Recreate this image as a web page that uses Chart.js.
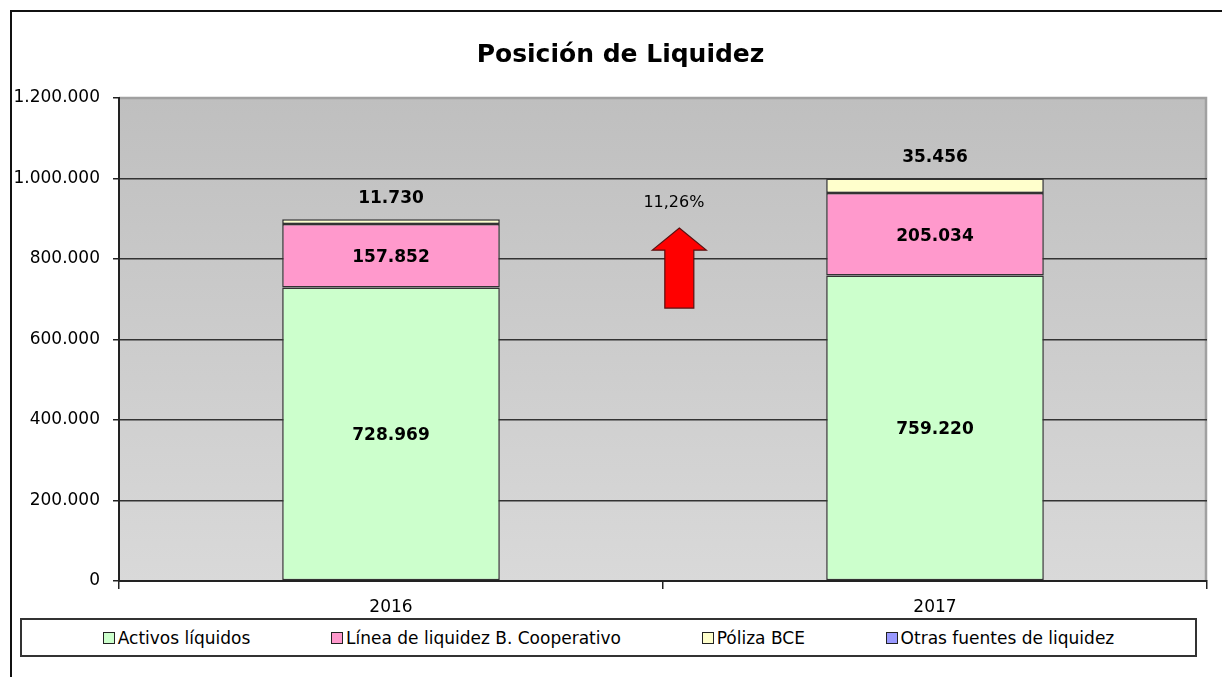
<!DOCTYPE html>
<html>
<head>
<meta charset="UTF-8">
<title>Posición de Liquidez</title>
<script src="https://cdn.jsdelivr.net/npm/chart.js@4.4.1/dist/chart.umd.min.js"></script>
<style>
  body { margin: 0; background: #fff; font-family: "DejaVu Sans", Verdana, sans-serif; }
  #wrap { position: relative; width: 1222px; height: 677px; overflow: hidden; }
  #frame { position: absolute; left: 10px; top: 10px; width: 1300px; height: 800px;
           border: 2px solid #111; pointer-events: none; }
  #legend { position: absolute; left: 20px; top: 618px; width: 1173px; height: 35px;
            border: 2px solid #333; background: #fff; display: flex;
            justify-content: space-evenly; align-items: center; font-size: 17px; color: #000; }
  #legend .item { display: flex; align-items: center; white-space: nowrap; }
  #legend .box { display: inline-block; width: 10px; height: 10px; border: 1px solid #222; margin-right: 3px; }
</style>
</head>
<body>
<div id="wrap">
  <canvas id="chart" width="1222" height="677"></canvas>
  <div id="legend"></div>
  <div id="frame"></div>
</div>
<script>
// data
var categories = ['2016', '2017'];
var activosLiquidos = [728969, 759220];
var lineaLiquidez = [157852, 205034];
var polizaBCE = [11730, 35456];
var otrasFuentes = [0, 0];
var yMax = 1200000;
var yStep = 200000;

// arrow between the two bars, in axis units
var arrowX = 0.53;
var arrowTop = 877000;
var arrowNeck = 822000;
var arrowBottom = 678000;
var growthLabelX = 0.52;
var growthLabelY = 939000;

var FONT = '"DejaVu Sans", Verdana, sans-serif';

function fmt(n) {
  return String(Math.round(n)).replace(/\B(?=(\d{3})+(?!\d))/g, '.');
}

function total(i) {
  return activosLiquidos[i] + lineaLiquidez[i] + polizaBCE[i] + otrasFuentes[i];
}

// the title sits a bit right of the canvas centre in the original
var titleShift = {
  id: 'titleShift',
  afterLayout: function(chart) {
    chart.titleBlock.left = 34;
  }
};

var plotBackground = {
  id: 'plotBackground',
  beforeDraw: function(chart) {
    var a = chart.chartArea, ctx = chart.ctx;
    var g = ctx.createLinearGradient(0, a.top, 0, a.bottom);
    g.addColorStop(0, '#bfbfbf');
    g.addColorStop(1, '#d9d9d9');
    ctx.save();
    ctx.fillStyle = g;
    ctx.fillRect(a.left, a.top, a.right - a.left, a.bottom - a.top);
    ctx.strokeStyle = '#a0a0a0';
    ctx.lineWidth = 2.5;
    ctx.beginPath();
    ctx.moveTo(a.left, a.top);
    ctx.lineTo(a.right - 1, a.top);
    ctx.lineTo(a.right - 1, a.bottom);
    ctx.stroke();
    ctx.restore();
  }
};

var barLabels = {
  id: 'barLabels',
  afterDatasetsDraw: function(chart) {
    var ctx = chart.ctx;
    ctx.save();
    ctx.font = 'bold 17px ' + FONT;
    ctx.fillStyle = '#000';
    ctx.textAlign = 'center';
    ctx.textBaseline = 'middle';
    chart.data.datasets.forEach(function(ds, di) {
      chart.getDatasetMeta(di).data.forEach(function(el, i) {
        var v = ds.data[i];
        if (!v) return;
        if (di === 2) {
          ctx.fillText(fmt(v), el.x, el.y - 21);
        } else {
          ctx.fillText(fmt(v), el.x, (el.y + el.base) / 2 + 2);
        }
      });
    });
    ctx.restore();
  }
};

var growthArrow = {
  id: 'growthArrow',
  afterDatasetsDraw: function(chart) {
    var ctx = chart.ctx, x = chart.scales.x, y = chart.scales.y;
    var cx = x.getPixelForValue(arrowX);
    var top = y.getPixelForValue(arrowTop);
    var neck = y.getPixelForValue(arrowNeck);
    var bottom = y.getPixelForValue(arrowBottom);
    var head = 27, shaft = 14.5;
    ctx.save();
    ctx.beginPath();
    ctx.moveTo(cx, top);
    ctx.lineTo(cx + head, neck);
    ctx.lineTo(cx + shaft, neck);
    ctx.lineTo(cx + shaft, bottom);
    ctx.lineTo(cx - shaft, bottom);
    ctx.lineTo(cx - shaft, neck);
    ctx.lineTo(cx - head, neck);
    ctx.closePath();
    ctx.fillStyle = '#ff0000';
    ctx.fill();
    ctx.strokeStyle = '#5a1010';
    ctx.lineWidth = 1.2;
    ctx.stroke();

    var growth = (total(1) / total(0) - 1) * 100;
    ctx.font = '16px ' + FONT;
    ctx.fillStyle = '#000';
    ctx.textAlign = 'center';
    ctx.textBaseline = 'middle';
    ctx.fillText(growth.toFixed(2).replace('.', ',') + '%',
                 x.getPixelForValue(growthLabelX), y.getPixelForValue(growthLabelY));
    ctx.restore();
  }
};

var htmlLegend = {
  id: 'htmlLegend',
  afterUpdate: function(chart) {
    var box = document.getElementById('legend');
    box.innerHTML = '';
    chart.options.plugins.legend.labels.generateLabels(chart).forEach(function(item) {
      var el = document.createElement('div');
      el.className = 'item';
      var sw = document.createElement('span');
      sw.className = 'box';
      sw.style.background = item.fillStyle;
      el.appendChild(sw);
      el.appendChild(document.createTextNode(item.text));
      box.appendChild(el);
    });
  }
};

function barSet(label, data, color) {
  return {
    label: label,
    data: data,
    backgroundColor: color,
    borderColor: '#333',
    borderWidth: function(c) { return c.raw ? 1.5 : 0; },
    borderSkipped: false,
    categoryPercentage: 1,
    barPercentage: 0.4
  };
}

new Chart(document.getElementById('chart'), {
  type: 'bar',
  data: {
    labels: categories,
    datasets: [
      barSet('Activos líquidos', activosLiquidos, '#ccffcc'),
      barSet('Línea de liquidez B. Cooperativo', lineaLiquidez, '#ff99cc'),
      barSet('Póliza BCE', polizaBCE, '#ffffcc'),
      barSet('Otras fuentes de liquidez', otrasFuentes, '#9999ff')
    ]
  },
  options: {
    responsive: false,
    animation: false,
    layout: { padding: { left: 0, right: 15, top: 0, bottom: 61 } },
    plugins: {
      legend: { display: false },
      tooltip: { enabled: false },
      title: {
        display: true,
        text: 'Posición de Liquidez',
        color: '#000',
        font: { family: FONT, size: 25, weight: 'bold' },
        padding: { top: 40, bottom: 28 }
      }
    },
    scales: {
      x: {
        stacked: true,
        grid: { drawOnChartArea: false, tickLength: 8, color: '#222', lineWidth: 1.5 },
        border: { color: '#222', width: 2 },
        ticks: { color: '#000', padding: 8, font: { family: FONT, size: 17 } },
        afterFit: function(s) { s.height = 35; }
      },
      y: {
        stacked: true,
        min: 0,
        max: yMax,
        ticks: {
          stepSize: yStep,
          color: '#000',
          padding: 13,
          font: { family: FONT, size: 17 },
          callback: function(v) { return fmt(v); }
        },
        grid: {
          tickLength: 6,
          lineWidth: 1.5,
          tickColor: '#222',
          color: function(c) { return c.tick && c.tick.value === yMax ? '#a0a0a0' : '#333'; }
        },
        border: { color: '#222', width: 2 },
        afterFit: function(s) { s.width = 119; }
      }
    }
  },
  plugins: [titleShift, plotBackground, barLabels, growthArrow, htmlLegend]
});
</script>
</body>
</html>
